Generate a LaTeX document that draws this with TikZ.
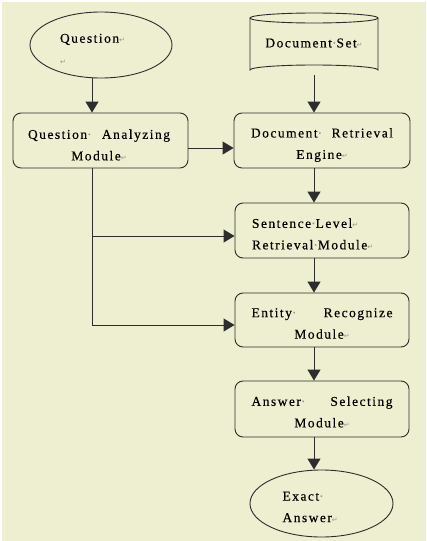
\documentclass[tikz,border=0pt]{standalone}
\usepackage{fontspec}
\setmainfont{Liberation Serif}[LetterSpace=11,FakeBold=0.3]
\newfontfamily\markfont{DejaVu Sans}
\usetikzlibrary{arrows.meta,shapes.geometric}
\definecolor{bg}{RGB}{238,238,208}
\definecolor{mk}{RGB}{150,150,150}
\definecolor{ln}{RGB}{45,45,45}
\newcommand\rmk{{\markfont\fontsize{7}{7}\selectfont\color{mk}↵}}
\newcommand\dmk{{\color{mk}·}}
\begin{document}
\begin{tikzpicture}[x=1pt,y=-1pt,
  txt/.style={font=\fontsize{13.5}{21.5}\selectfont,inner sep=0pt},
  ctxt/.style={txt,align=center,text width=142pt},
  ltxt/.style={txt,align=left},
  box/.style={draw=ln,line width=0.9pt,rounded corners=8pt,minimum width=175pt,minimum height=55pt,inner sep=0pt},
  oval/.style={draw=ln,line width=0.9pt,ellipse,inner sep=0pt,minimum width=142pt,minimum height=66pt},
  arr/.style={draw=ln,line width=1pt,-{Triangle[width=13pt,length=11pt]}},
  plain/.style={draw=ln,line width=1pt}]
\useasboundingbox (0,0) rectangle (426,541);
\fill[white] (0,0) rectangle (426,541);
\fill[bg] (1.5,1.5) rectangle (426,541);
% shapes
\node[oval] (q) at (101,45) {};
\draw[ln,line width=0.9pt] (250,18) -- (250,70) arc[start angle=180,end angle=360,x radius=64,y radius=5] -- (378,18);
\draw[ln,line width=0.9pt] (314,18) ellipse[x radius=64,y radius=5];
\node[minimum height=62pt,minimum width=128pt,inner sep=0pt] (ds) at (314,44) {};
\node[box] (qa) at (100.5,140.5) {};
\node[box,minimum width=176pt] (dre) at (322,140.5) {};
\node[box,minimum width=174pt] (slrm) at (322,230.5) {};
\node[box,minimum width=174pt,minimum height=54pt] (erm) at (322,320) {};
\node[box,minimum width=174pt,minimum height=56pt] (asm) at (322,409) {};
\node[oval,minimum width=143pt,minimum height=67pt] (ea) at (321.5,503.5) {};
% texts
\node[ltxt,text width=72pt] (qt) at ([xshift=-5pt,yshift=-4pt]q.center) {Question\rmk\\\rmk};
\node[txt] (dst) at ([yshift=1pt]ds.center) {Document\dmk Set\rmk};
\node[ctxt] (qat) at ([xshift=-1.5pt,yshift=-4.5pt]qa.center) {\makebox[142pt][s]{Question\dmk\hfill Analyzing}\\Module\rmk};
\node[ctxt] (dret) at ([yshift=-4.5pt]dre.center) {\makebox[142pt][s]{Document\dmk\hfill Retrieval}\\Engine\rmk};
\node[ltxt,text width=140pt] (slrmt) at ([yshift=-3.5pt]slrm.center) {Sentence\dmk Level\rmk\\Retrieval\dmk Module\rmk};
\node[ctxt,text width=141pt] (ermt) at ([yshift=-3.5pt]erm.center) {\makebox[141pt][s]{Entity\dmk\hfill Recognize}\\Module\rmk};
\node[ctxt,text width=141pt] (asmt) at ([yshift=-3pt]asm.center) {\makebox[141pt][s]{Answer\dmk\hfill Selecting}\\Module\rmk};
\node[ltxt,text width=78pt] (eat) at ([yshift=-3.5pt]ea.center) {Exact\dmk\\Answer\rmk};
% helper coordinates
\coordinate (qx) at (92,0);
\coordinate (hy) at (0,148);
\coordinate (b1) at (92,236);
\coordinate (b2) at (92,325);
% connectors
\draw[arr] (qx |- q.south) -- (qx |- qa.north);
\draw[arr] (ds.south) -- (ds.south |- dre.north);
\draw[arr] (qa.east |- hy) -- (dre.west |- hy);
\draw[arr] (dre.south -| ds.south) -- (slrm.north -| ds.south);
\draw[arr] (slrm.south -| ds.south) -- (erm.north -| ds.south);
\draw[arr] (erm.south -| ds.south) -- (asm.north -| ds.south);
\draw[arr] (asm.south -| ds.south) -- (ea.north -| ds.south);
\draw[plain] (qx |- qa.south) -- (b2);
\draw[arr] (b1) -- (slrm.west |- b1);
\draw[arr] (b2) -- (erm.west |- b2);
\end{tikzpicture}
\end{document}
